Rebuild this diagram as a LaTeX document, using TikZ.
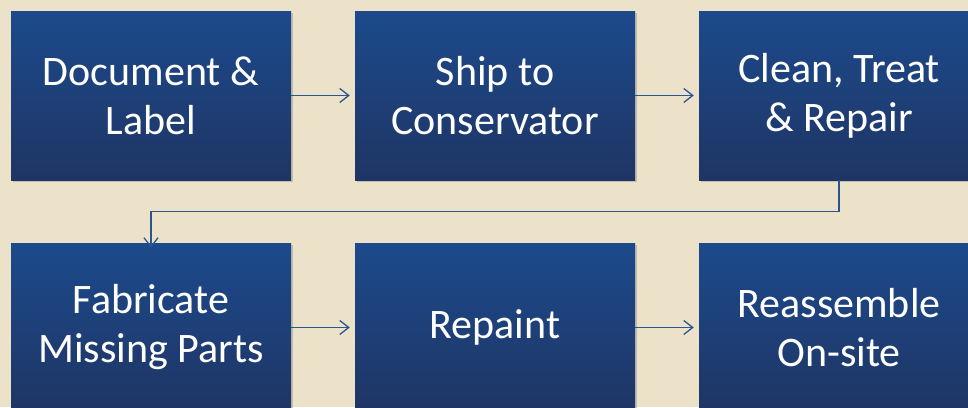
\documentclass[tikz,border=0pt]{standalone}
\usepackage{fontspec}
\setmainfont{Carlito}
\usetikzlibrary{arrows.meta,shadows,positioning}
\definecolor{bg}{HTML}{ECE2CA}
\definecolor{boxtop}{HTML}{1C4A8C}
\definecolor{boxbot}{HTML}{1F3564}
\definecolor{linec}{HTML}{2B5590}
\tikzset{
  stepbox/.style={draw=none, top color=boxtop, bottom color=boxbot, minimum width=280pt, minimum height=169pt,
    text=white, align=center, inner sep=0pt, font=\fontsize{42}{49}\selectfont,
    drop shadow={shadow xshift=2pt, shadow yshift=-2pt, fill=black!40, opacity=0.5}},
  conn/.style={draw=linec, line width=1.4pt, -{Straight Barb[length=9pt,width=14pt,line width=1.3pt]}}
}
\begin{document}
\begin{tikzpicture}[x=1pt,y=-1pt]
\fill[bg] (0,0) rectangle (968,407);
\useasboundingbox (0,0) rectangle (968,407);
\begin{scope}
\clip (0,0) rectangle (968,407);
\node[stepbox] (b1) at (151,95.5) {Document \&\\Label};
\node[stepbox] (b2) at (495,95.5) {Ship to\\Conservator};
\node[stepbox] (b3) at (839,95.5) {Clean, Treat\\\& Repair};
\node[stepbox] (b4) at (151,327.5) {Fabricate\\Missing Parts};
\node[stepbox] (b5) at (495,327.5) {Repaint};
\node[stepbox] (b6) at (839,327.5) {Reassemble\\On-site};
\draw[conn] (b1.east) -- ([xshift=-5pt]b2.west);
\draw[conn] (b2.east) -- ([xshift=-5pt]b3.west);
\draw[conn] (b3.south) -- ++(0,31) -| ([yshift=-5pt]b4.north);
\draw[conn] (b4.east) -- ([xshift=-5pt]b5.west);
\draw[conn] (b5.east) -- ([xshift=-5pt]b6.west);
\end{scope}
\end{tikzpicture}
\end{document}
